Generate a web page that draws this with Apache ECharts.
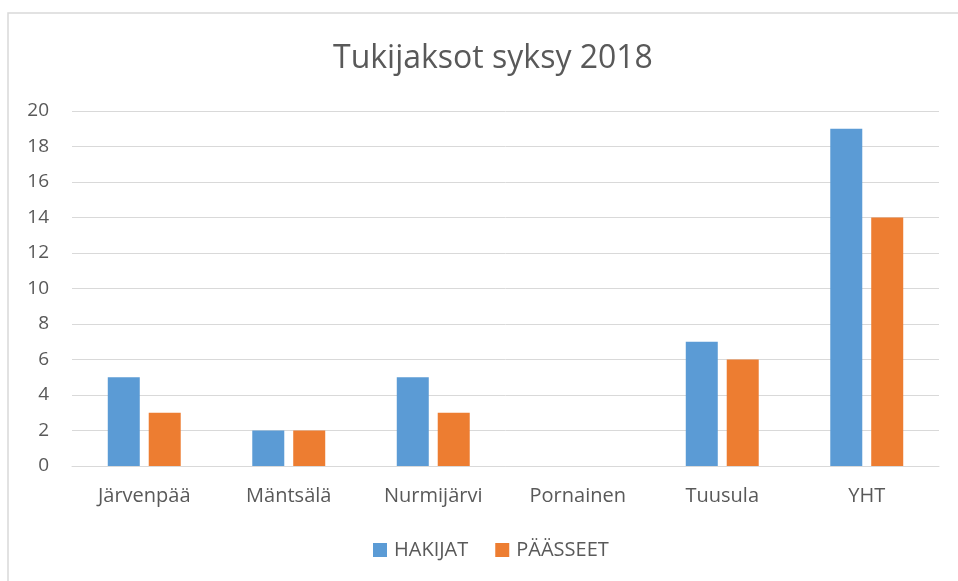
<!DOCTYPE html>
<html>
<head>
<meta charset="utf-8">
<script src="https://cdn.jsdelivr.net/npm/echarts@6/dist/echarts.min.js"></script>
<style>
  html, body { margin: 0; padding: 0; background: #fff; }
  #chart { width: 958px; height: 581px; }
</style>
</head>
<body>
<div id="chart"></div>
<script>
var categories = ['Järvenpää', 'Mäntsälä', 'Nurmijärvi', 'Pornainen', 'Tuusula', 'YHT'];
var hakijat = [5, 2, 5, 0, 7, 19];
var paasseet = [3, 2, 3, 0, 6, 14];

var chart = echarts.init(document.getElementById('chart'));
var font = '"Open Sans", "Noto Sans", sans-serif';

chart.setOption({
    backgroundColor: '#fff',
    textStyle: { fontFamily: font },
    title: {
        text: 'Tukijaksot syksy 2018',
        left: 328,
        top: 38,
        textStyle: { fontFamily: font, fontSize: 32, fontWeight: 'normal', color: '#595959' }
    },
    // partial outer frame of the chart area
    graphic: [{
        type: 'rect',
        shape: { x: 8, y: 13, width: 1000, height: 1000 },
        style: { fill: 'none', stroke: '#d9d9d9', lineWidth: 1.5 },
        silent: true
    }],
    legend: {
        bottom: 16,
        left: 368,
        itemWidth: 14,
        itemHeight: 14,
        itemGap: 27,
        icon: 'rect',
        textStyle: { fontFamily: font, fontSize: 20, color: '#595959', padding: [0, 0, 0, 2] },
        data: ['HAKIJAT', 'PÄÄSSEET']
    },
    grid: { left: 72, right: 19, top: 111, bottom: 115 },
    xAxis: {
        type: 'category',
        data: categories,
        axisLine: { lineStyle: { color: '#d9d9d9', width: 1 } },
        axisTick: { show: false },
        axisLabel: { fontFamily: font, fontSize: 20, color: '#595959', margin: 20 }
    },
    yAxis: {
        type: 'value',
        min: 0,
        max: 20,
        interval: 2,
        axisLine: { show: false },
        axisTick: { show: false },
        splitLine: { lineStyle: { color: '#d9d9d9', width: 1 } },
        axisLabel: { fontFamily: font, fontSize: 19, color: '#595959', margin: 23 }
    },
    series: [
        {
            name: 'HAKIJAT',
            type: 'bar',
            barWidth: 32,
            barGap: '28%',
            itemStyle: { color: '#5B9BD5' },
            data: hakijat
        },
        {
            name: 'PÄÄSSEET',
            type: 'bar',
            barWidth: 32,
            itemStyle: { color: '#ED7D31' },
            data: paasseet
        }
    ]
});

window.onresize = function () {
    chart.resize();
}
</script>
</body>
</html>
